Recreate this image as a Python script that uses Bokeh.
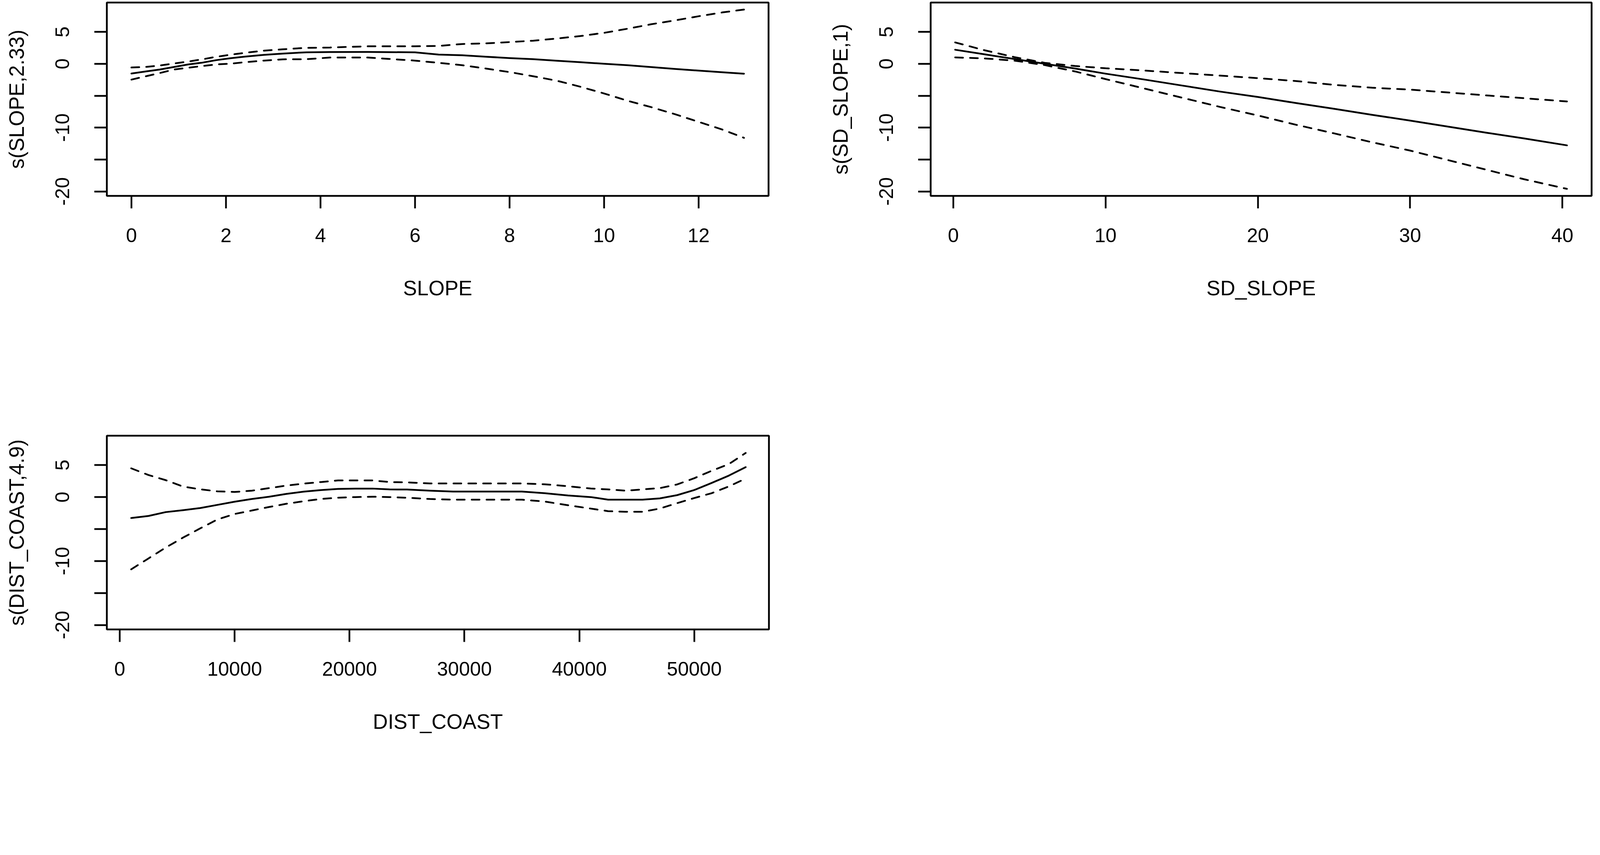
from bokeh.plotting import figure
from bokeh.models import Range1d, FixedTicker
from bokeh.layouts import column, row
from bokeh.embed import file_html
from bokeh.resources import INLINE

# ---------------- data ----------------
# Panel 1: s(SLOPE,2.33)
slope_x = [0, 0.3, 0.6, 0.9, 1.2, 1.5, 1.8, 2.1, 2.4, 2.8, 3.2, 3.7, 4.2, 5.0, 6.0, 6.5,
           7.0, 7.5, 8.0, 8.5, 9.0, 9.5, 10.0, 10.5, 11.0, 11.5, 12.0, 12.5, 12.96]
slope_fit = [-1.52, -1.2, -0.9, -0.5, -0.1, 0.18, 0.58, 0.88, 1.12, 1.4, 1.6, 1.8, 1.84, 1.85, 1.8, 1.45,
             1.33, 1.1, 0.9, 0.72, 0.48, 0.25, 0.0, -0.22, -0.52, -0.8, -1.07, -1.32, -1.55]
slope_upper = [-0.58, -0.5, -0.27, 0.05, 0.35, 0.7, 1.1, 1.42, 1.72, 2.05, 2.27, 2.5, 2.55, 2.74, 2.74, 2.8,
               3.1, 3.2, 3.4, 3.62, 3.96, 4.35, 4.85, 5.5, 6.2, 6.8, 7.45, 8.05, 8.5]
slope_lower = [-2.48, -1.96, -1.45, -0.9, -0.62, -0.35, -0.1, 0.02, 0.25, 0.5, 0.7, 0.72, 0.98, 0.98, 0.5, 0.15,
               -0.22, -0.75, -1.3, -1.95, -2.65, -3.6, -4.65, -5.8, -6.8, -7.9, -9.1, -10.3, -11.6]

# Panel 2: s(SD_SLOPE,1)
sd_x = [0.12, 2, 4, 6, 8, 10, 12.5, 15, 17.5, 20, 22.5, 25, 27.5, 30, 32.5, 35, 37.5, 40.3]
sd_fit = [2.2, 1.5, 0.75, 0.0, -0.75, -1.55, -2.45, -3.4, -4.35, -5.2, -6.15, -7.05, -8.0, -8.9,
          -9.85, -10.8, -11.7, -12.78]
sd_upper = [3.35, 2.15, 1.05, 0.15, -0.35, -0.7, -1.05, -1.45, -1.85, -2.25, -2.7, -3.3, -3.75, -4.05,
            -4.5, -4.95, -5.4, -5.9]
sd_lower = [1.0, 0.85, 0.5, -0.2, -1.2, -2.4, -3.85, -5.3, -6.75, -8.1, -9.55, -10.9, -12.3, -13.6,
            -15.1, -16.6, -18.1, -19.6]

# Panel 3: s(DIST_COAST,4.9)
dc_x = [1000, 2500, 4000, 5500, 7000, 8500, 10000, 11500, 13000, 14500, 16000, 17500, 19000, 20500,
        22000, 23500, 25000, 27000, 29000, 31000, 33000, 35000, 37000, 39000, 41000, 42500, 44000,
        45500, 47000, 48500, 50000, 51500, 53000, 54475]
dc_fit = [-3.28, -2.95, -2.35, -2.05, -1.72, -1.22, -0.72, -0.3, 0.05, 0.5, 0.85, 1.1, 1.27, 1.33,
          1.33, 1.2, 1.18, 1.0, 0.86, 0.86, 0.86, 0.86, 0.6, 0.25, 0.0, -0.4, -0.41,
          -0.41, -0.2, 0.3, 1.1, 2.2, 3.35, 4.68]
dc_upper = [4.5, 3.45, 2.65, 1.65, 1.22, 0.9, 0.8, 1.0, 1.4, 1.8, 2.1, 2.35, 2.6, 2.6,
            2.6, 2.35, 2.3, 2.13, 2.13, 2.13, 2.13, 2.13, 2.0, 1.7, 1.34, 1.2, 1.0,
            1.2, 1.4, 1.97, 2.95, 4.1, 5.15, 6.9]
dc_lower = [-11.3, -9.6, -7.9, -6.35, -4.9, -3.5, -2.64, -2.1, -1.55, -1.05, -0.65, -0.3, -0.1, 0.0,
            0.06, 0.0, -0.1, -0.3, -0.41, -0.41, -0.41, -0.41, -0.7, -1.27, -1.8, -2.2, -2.3,
            -2.3, -1.8, -0.95, -0.15, 0.6, 1.66, 2.9]

y_ticks = [-20, -15, -10, -5, 0, 5]
y_labels = ["-20", "", "-10", "", "0", "5"]
slope_ticks = [0, 2, 4, 6, 8, 10, 12]
slope_labels = ["0", "2", "4", "6", "8", "10", "12"]
sd_ticks = [0, 10, 20, 30, 40]
sd_labels = ["0", "10", "20", "30", "40"]
dc_ticks = [0, 10000, 20000, 30000, 40000, 50000]
dc_labels = ["0", "10000", "20000", "30000", "40000", "50000"]

FONT = "Liberation Sans"
S = 1.152  # observed page zoom of the screenshot


def px(v):
    return int(round(v / S))


def panel(x, fit, upper, lower, xr, xt, xl, xlabel, ylabel, w, h, bl, br, bt, bb):
    p = figure(width=px(w), height=px(h), x_range=Range1d(*xr), y_range=Range1d(-20.7, 9.6),
               output_backend="svg", toolbar_location=None,
               min_border_left=px(bl), min_border_right=px(br),
               min_border_top=px(bt), min_border_bottom=px(bb))
    p.grid.visible = False
    p.outline_line_color = "black"
    p.outline_line_width = 4.6
    p.background_fill_color = "white"
    p.border_fill_color = "white"

    lw = 4.5
    p.line(x, fit, line_color="black", line_width=lw, line_join="round", line_cap="round")
    p.line(x, upper, line_color="black", line_width=lw, line_dash="20 18", line_cap="round")
    p.line(x, lower, line_color="black", line_width=lw, line_dash="20 18", line_cap="round")

    for ax in (p.xaxis[0], p.yaxis[0]):
        ax.axis_line_color = None
        ax.major_tick_line_color = "black"
        ax.major_tick_line_width = 4.4
        ax.major_tick_out = 32
        ax.major_tick_in = 0
        ax.minor_tick_line_color = None
        ax.major_label_text_font = FONT
        ax.major_label_text_font_size = "50.5px"
        ax.major_label_text_color = "black"
        ax.axis_label_text_font = FONT
        ax.axis_label_text_font_size = "53px"
        ax.axis_label_text_font_style = "normal"
        ax.axis_label_text_color = "black"

    xa = p.xaxis[0]
    xa.ticker = FixedTicker(ticks=xt)
    xa.major_label_overrides = {t: s for t, s in zip(xt, xl)}
    xa.axis_label = xlabel
    xa.major_label_standoff = 51
    xa.axis_label_standoff = 85

    ya = p.yaxis[0]
    ya.ticker = FixedTicker(ticks=y_ticks)
    ya.major_label_overrides = {t: s for t, s in zip(y_ticks, y_labels)}
    ya.major_label_orientation = "parallel"
    ya.axis_label = ylabel
    ya.major_label_standoff = 64
    ya.axis_label_standoff = 68
    return p


p1 = panel(slope_x, slope_fit, slope_upper, slope_lower, (-0.52, 13.48), slope_ticks, slope_labels,
           "SLOPE", "s(SLOPE,2.33)", 2362, 1094, 314, 96, 7, 517)
p2 = panel(sd_x, sd_fit, sd_upper, sd_lower, (-1.49, 41.92), sd_ticks, sd_labels,
           "SD_SLOPE", "s(SD_SLOPE,1)", 2362, 1094, 383, 30, 7, 517)
p3 = panel(dc_x, dc_fit, dc_upper, dc_lower, (-1120, 56500), dc_ticks, dc_labels,
           "DIST_COAST", "s(DIST_COAST,4.9)", 2362, 1094, 314, 95, 190, 333)

layout = column(row(p1, p2), row(p3))
open("out.html", "w").write(file_html(layout, INLINE))
